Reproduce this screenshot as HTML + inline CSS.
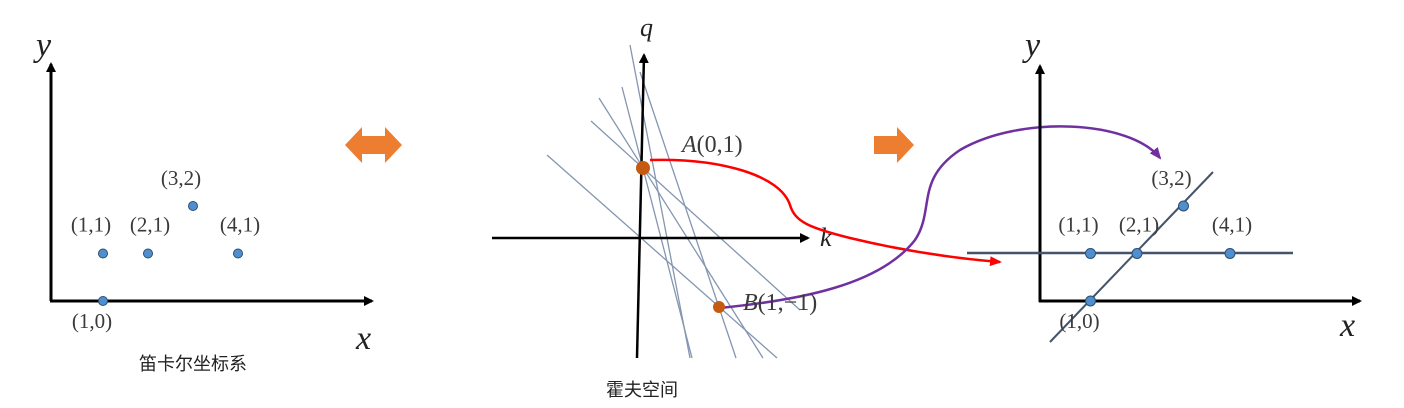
<!DOCTYPE html>
<html><head><meta charset="utf-8"><style>
html,body{margin:0;padding:0;background:#fff;}
svg{display:block;}
.lbl{font-family:"Liberation Serif",serif;font-size:21px;fill:#3a3a3a;}
.ax{font-family:"Liberation Serif",serif;font-style:italic;font-size:34px;fill:#222;}
.cn{font-family:"Liberation Sans","Noto Sans CJK SC",sans-serif;font-size:18px;fill:#222;}
</style></head><body>
<svg id="c" width="1404" height="408" viewBox="0 0 1404 408">
<defs>
<marker id="ab" markerWidth="10" markerHeight="10" refX="8" refY="5" orient="auto" markerUnits="userSpaceOnUse"><path d="M0,0 L10,5 L0,10 Z" fill="#000"/></marker>
<marker id="ar" markerWidth="12" markerHeight="10" refX="10" refY="5" orient="auto" markerUnits="userSpaceOnUse"><path d="M0,0 L12,5 L0,10 Z" fill="#f00"/></marker>
<marker id="ap" markerWidth="12" markerHeight="10" refX="10" refY="5" orient="auto" markerUnits="userSpaceOnUse"><path d="M0,0 L12,5 L0,10 Z" fill="#7030a0"/></marker>
</defs>
<g>
<line x1="51" y1="301" x2="51" y2="64" stroke="#000" stroke-width="3" marker-end="url(#ab)"/>
<line x1="50" y1="301" x2="372" y2="301" stroke="#000" stroke-width="3" marker-end="url(#ab)"/>
<text class="ax" x="36" y="56">y</text>
<text class="ax" x="356" y="349">x</text>
<text class="cn" x="139" y="370">笛卡尔坐标系</text>
<g id="leftPts"></g>
</g>
<path d="M345,145 L362,127 L362,136 L385,136 L385,127 L402,145 L385,163 L385,154 L362,154 L362,163 Z" fill="#ed7d31"/>
<path d="M874,136 L897,136 L897,127 L914,145 L897,163 L897,154 L874,154 Z" fill="#ed7d31"/>
<g>
<g stroke="#8496b0" stroke-width="1.3">
<line x1="630" y1="45" x2="690" y2="358"/>
<line x1="622" y1="87" x2="692" y2="358"/>
<line x1="599" y1="98" x2="763" y2="358"/>
<line x1="591" y1="121" x2="800" y2="310"/>
<line x1="547" y1="155" x2="777" y2="358"/>
<line x1="640" y1="72" x2="736" y2="358"/>
</g>
<line x1="637" y1="358" x2="644" y2="55" stroke="#000" stroke-width="2.5" marker-end="url(#ab)"/>
<line x1="492" y1="238" x2="808" y2="238" stroke="#000" stroke-width="2.5" marker-end="url(#ab)"/>
<text class="ax" x="640" y="36" style="font-size:26px">q</text>
<text class="ax" x="820" y="246" style="font-size:26px">k</text>
<path d="M650,160 C720,158 780,175 790,205 C795,222 810,228 850,238 C900,250 950,258 1000,262" fill="none" stroke="#f00" stroke-width="2.5" marker-end="url(#ar)"/>
<path d="M720,308 C800,300 880,285 915,240 C935,210 915,180 960,150 C1020,115 1130,120 1160,158" fill="none" stroke="#7030a0" stroke-width="2.5" marker-end="url(#ap)"/>
<circle cx="643" cy="168" r="7" fill="#c55a11"/>
<circle cx="719" cy="307" r="6" fill="#c55a11"/>
<text class="lbl" x="682" y="152" style="font-size:24px"><tspan font-style="italic">A</tspan>(0,1)</text>
<text class="lbl" x="743" y="310" style="font-size:24px"><tspan font-style="italic">B</tspan>(1,−1)</text>
<text class="cn" x="606" y="396">霍夫空间</text>
</g>
<g>
<line x1="1040" y1="302" x2="1040" y2="66" stroke="#000" stroke-width="3" marker-end="url(#ab)"/>
<line x1="1039" y1="301" x2="1360" y2="301" stroke="#000" stroke-width="3" marker-end="url(#ab)"/>
<text class="ax" x="1025" y="56">y</text>
<text class="ax" x="1340" y="336">x</text>
<line x1="967" y1="253" x2="1293" y2="253" stroke="#44546a" stroke-width="2.5"/>
<line x1="1050" y1="342" x2="1213" y2="172" stroke="#44546a" stroke-width="2"/>
<g id="rightPts"></g>
</g>
</svg>
<script>
const pointX = [1, 1, 2, 3, 4];
const pointY = [0, 1, 1, 2, 1];
const pointLabels = ["(1,0)", "(1,1)", "(2,1)", "(3,2)", "(4,1)"];
const NS = "http://www.w3.org/2000/svg";
function leftX(v){return 58 + 45*v;}
function leftY(v){return 301 - 47.5*v;}
function rightX(v){return 1044 + 46.5*v;}
function rightY(v){return 301 - 47.5*v;}
function drawPts(gid, fx, fy, r, prefix){
  const g = document.getElementById(gid);
  for(let i=0;i<pointX.length;i++){
    const cx = fx(pointX[i]), cy = fy(pointY[i]);
    const c = document.createElementNS(NS,"circle");
    c.setAttribute("cx",cx);c.setAttribute("cy",cy);c.setAttribute("r",r);
    c.setAttribute("fill","#4f8fd0");c.setAttribute("stroke","#2e4d6e");c.setAttribute("stroke-width","1");
    
    
    g.appendChild(c);
    const t = document.createElementNS(NS,"text");
    t.setAttribute("class","lbl");t.setAttribute("text-anchor","middle");
    let tx = cx - 12, ty = cy - 22;
    if(pointY[i]===0){ tx = cx - 11; ty = cy + 27; }
    if(pointY[i]===2){ tx = cx - 12; ty = cy - 21; }
    if(pointX[i]===2||pointX[i]===4){ tx = cx + 2; }
    t.setAttribute("x",tx);t.setAttribute("y",ty);
    t.textContent = pointLabels[i];
    
    
    g.appendChild(t);
  }
}
drawPts("leftPts", leftX, leftY, 4.5, "left");
drawPts("rightPts", rightX, rightY, 5, "right");
</script>
</body></html>
